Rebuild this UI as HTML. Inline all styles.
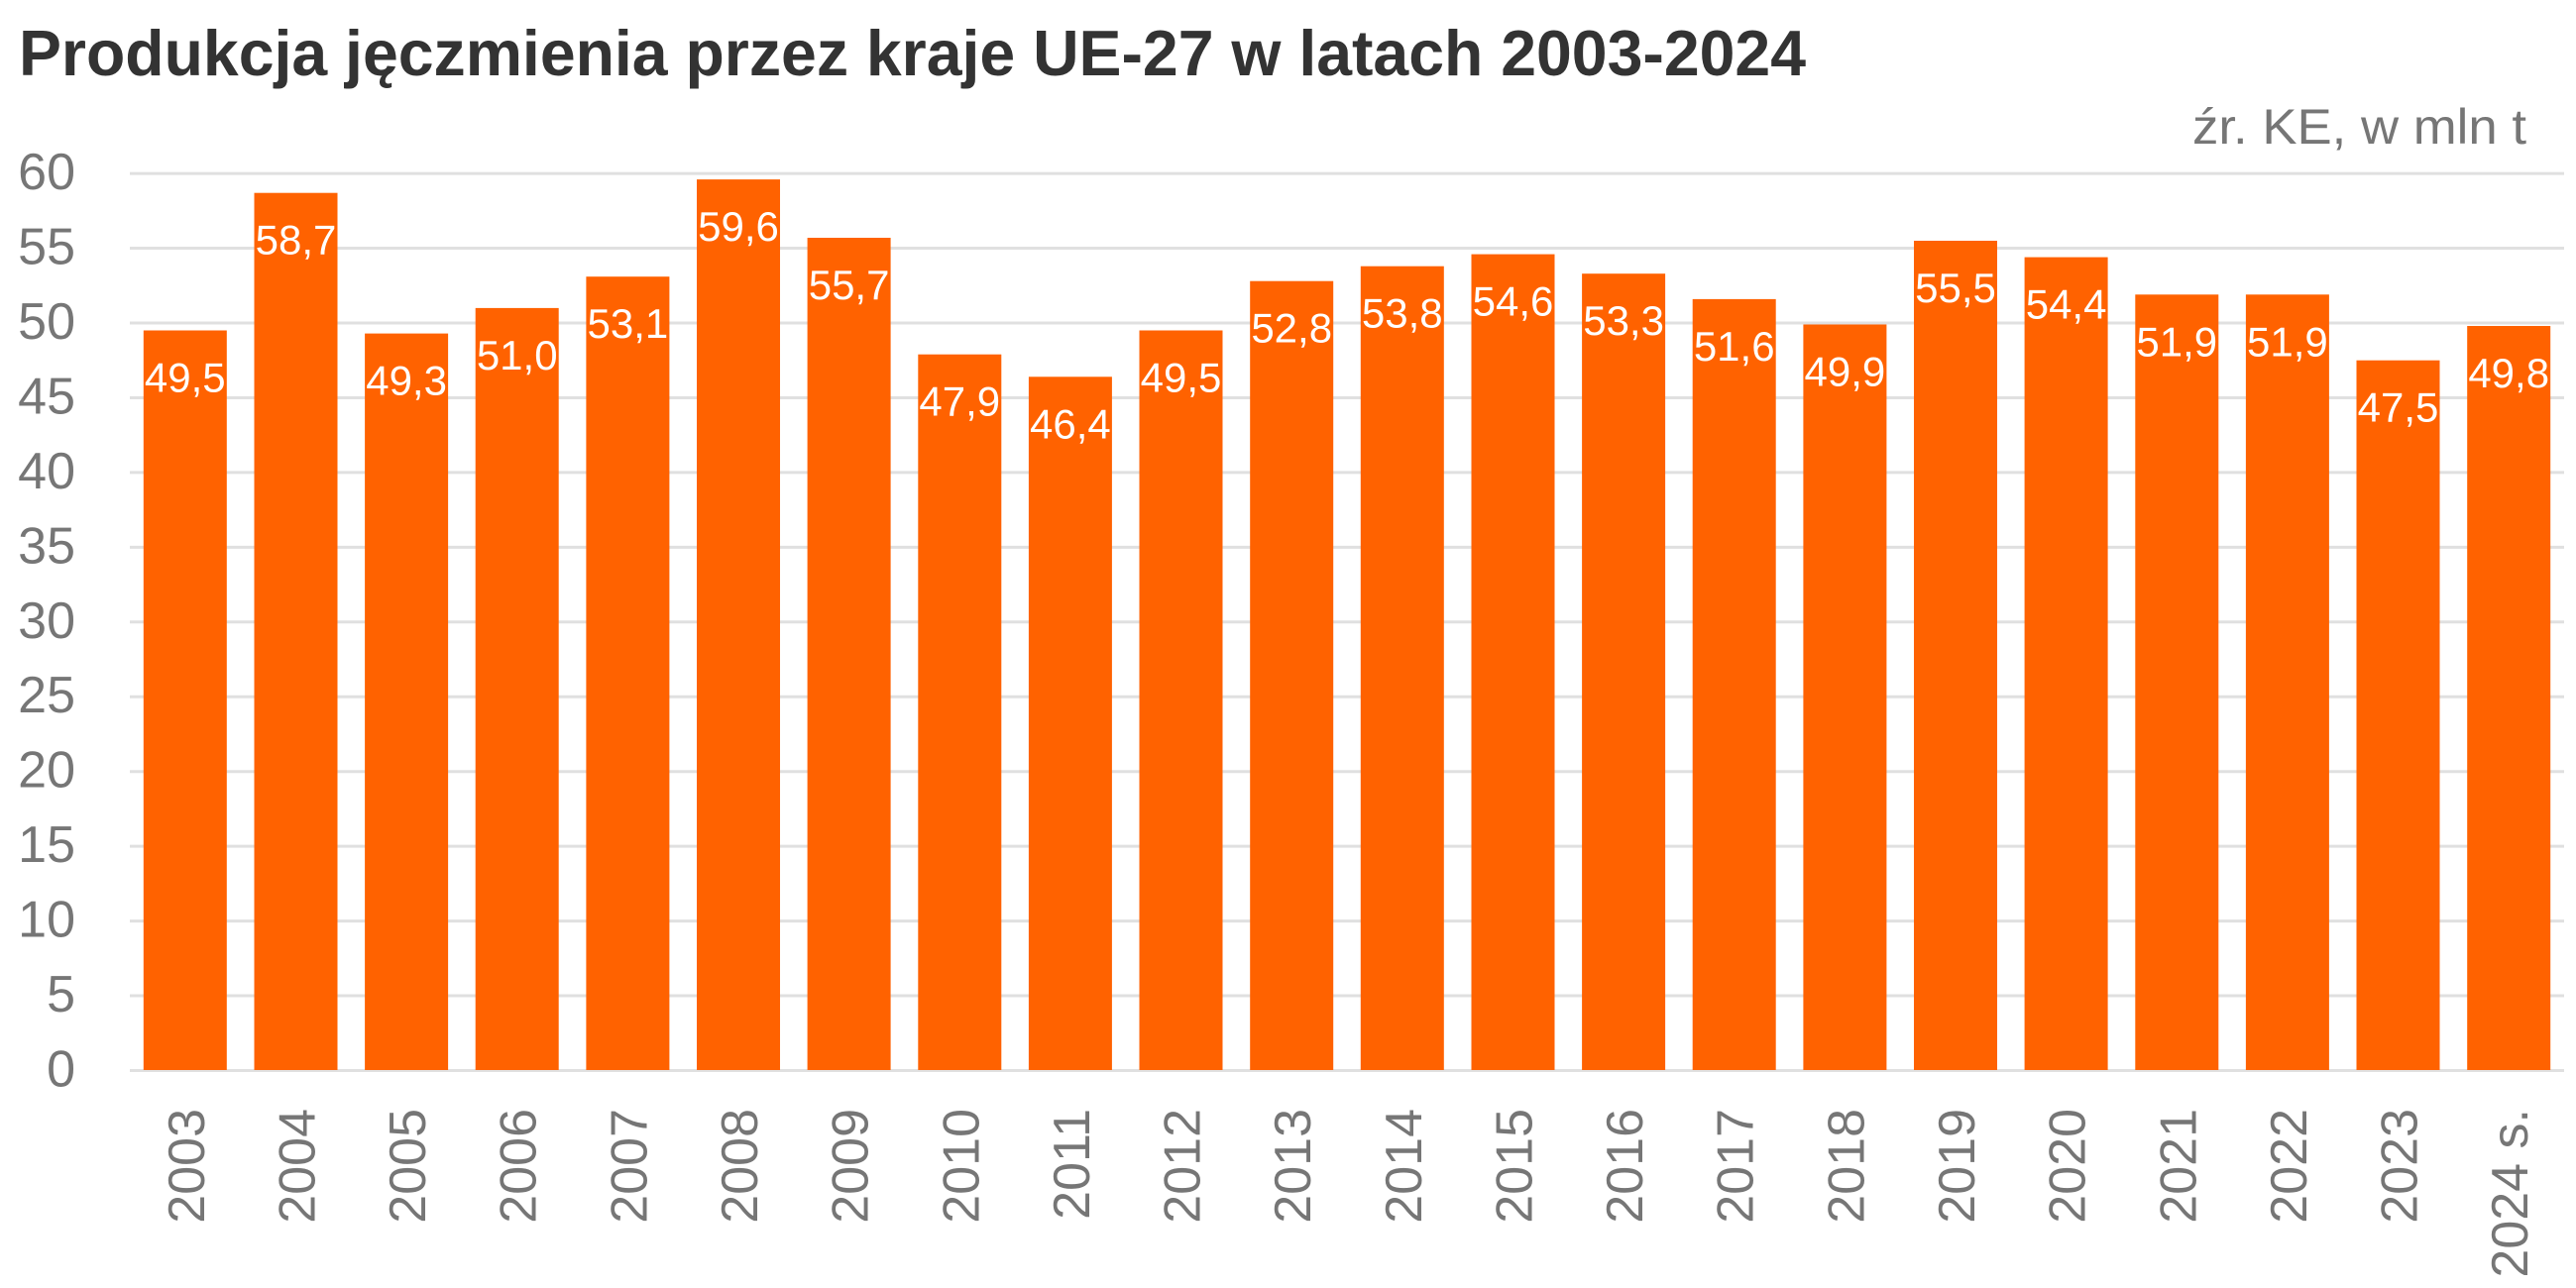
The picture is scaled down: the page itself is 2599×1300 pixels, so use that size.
<!DOCTYPE html>
<html>
<head>
<meta charset="utf-8">
<style>
html,body{margin:0;padding:0;background:#fff;}
svg{display:block;}
</style>
</head>
<body>
<svg width="2599" height="1300" viewBox="0 0 2599 1300" xmlns="http://www.w3.org/2000/svg">
<rect width="2599" height="1300" fill="#fff"/>
<text x="19" y="76" font-family="Liberation Sans, sans-serif" font-weight="bold" font-size="65" fill="#333333" textLength="1803" lengthAdjust="spacingAndGlyphs">Produkcja jęczmienia przez kraje UE-27 w latach 2003-2024</text>
<text x="2212" y="145" font-family="Liberation Sans, sans-serif" font-size="50" fill="#767676" textLength="337" lengthAdjust="spacingAndGlyphs">źr. KE, w mln t</text>
<g stroke="#e0e0e0" stroke-width="3">
<line x1="131" x2="2587" y1="1080.5" y2="1080.5"/>
<line x1="131" x2="2587" y1="1005.05" y2="1005.05"/>
<line x1="131" x2="2587" y1="929.6" y2="929.6"/>
<line x1="131" x2="2587" y1="854.15" y2="854.15"/>
<line x1="131" x2="2587" y1="778.7" y2="778.7"/>
<line x1="131" x2="2587" y1="703.25" y2="703.25"/>
<line x1="131" x2="2587" y1="627.8" y2="627.8"/>
<line x1="131" x2="2587" y1="552.35" y2="552.35"/>
<line x1="131" x2="2587" y1="476.9" y2="476.9"/>
<line x1="131" x2="2587" y1="401.45" y2="401.45"/>
<line x1="131" x2="2587" y1="326" y2="326"/>
<line x1="131" x2="2587" y1="250.55" y2="250.55"/>
<line x1="131" x2="2587" y1="175.1" y2="175.1"/>
</g>
<g font-family="Liberation Sans, sans-serif" font-size="52" fill="#767676" text-anchor="end">
<text x="76" y="1096.5">0</text>
<text x="76" y="1021">5</text>
<text x="76" y="945.6">10</text>
<text x="76" y="870.1">15</text>
<text x="76" y="794.7">20</text>
<text x="76" y="719.2">25</text>
<text x="76" y="643.8">30</text>
<text x="76" y="568.3">35</text>
<text x="76" y="492.9">40</text>
<text x="76" y="417.4">45</text>
<text x="76" y="342">50</text>
<text x="76" y="266.5">55</text>
<text x="76" y="191">60</text>
</g>
<g fill="#ff6200">
<rect x="144.8" y="333.5" width="84" height="746.5"/>
<rect x="256.5" y="194.7" width="84" height="885.3"/>
<rect x="368.1" y="336.6" width="84" height="743.4"/>
<rect x="479.7" y="310.9" width="84" height="769.1"/>
<rect x="591.4" y="279.2" width="84" height="800.8"/>
<rect x="703.0" y="181.1" width="84" height="898.9"/>
<rect x="814.6" y="240.0" width="84" height="840.0"/>
<rect x="926.3" y="357.7" width="84" height="722.3"/>
<rect x="1037.9" y="380.3" width="84" height="699.7"/>
<rect x="1149.5" y="333.5" width="84" height="746.5"/>
<rect x="1261.2" y="283.7" width="84" height="796.3"/>
<rect x="1372.8" y="268.7" width="84" height="811.3"/>
<rect x="1484.5" y="256.6" width="84" height="823.4"/>
<rect x="1596.1" y="276.2" width="84" height="803.8"/>
<rect x="1707.7" y="301.9" width="84" height="778.1"/>
<rect x="1819.4" y="327.5" width="84" height="752.5"/>
<rect x="1931.0" y="243.0" width="84" height="837.0"/>
<rect x="2042.6" y="259.6" width="84" height="820.4"/>
<rect x="2154.3" y="297.3" width="84" height="782.7"/>
<rect x="2265.9" y="297.3" width="84" height="782.7"/>
<rect x="2377.5" y="363.7" width="84" height="716.3"/>
<rect x="2489.2" y="329.0" width="84" height="751.0"/>
</g>
<g font-family="Liberation Sans, sans-serif" font-size="42" fill="#ffffff" text-anchor="middle">
<text x="186.8" y="395.5">49,5</text>
<text x="298.5" y="256.7">58,7</text>
<text x="410.1" y="398.6">49,3</text>
<text x="521.7" y="372.9">51,0</text>
<text x="633.4" y="341.2">53,1</text>
<text x="745.0" y="243.1">59,6</text>
<text x="856.6" y="302.0">55,7</text>
<text x="968.3" y="419.7">47,9</text>
<text x="1079.9" y="442.3">46,4</text>
<text x="1191.5" y="395.5">49,5</text>
<text x="1303.2" y="345.7">52,8</text>
<text x="1414.8" y="330.7">53,8</text>
<text x="1526.5" y="318.6">54,6</text>
<text x="1638.1" y="338.2">53,3</text>
<text x="1749.7" y="363.9">51,6</text>
<text x="1861.4" y="389.5">49,9</text>
<text x="1973.0" y="305.0">55,5</text>
<text x="2084.6" y="321.6">54,4</text>
<text x="2196.3" y="359.3">51,9</text>
<text x="2307.9" y="359.3">51,9</text>
<text x="2419.5" y="425.7">47,5</text>
<text x="2531.2" y="391.0">49,8</text>
</g>
<g font-family="Liberation Sans, sans-serif" font-size="52" fill="#767676" text-anchor="end">
<text transform="translate(205.8,1119) rotate(-90)">2003</text>
<text transform="translate(317.5,1119) rotate(-90)">2004</text>
<text transform="translate(429.1,1119) rotate(-90)">2005</text>
<text transform="translate(540.7,1119) rotate(-90)">2006</text>
<text transform="translate(652.4,1119) rotate(-90)">2007</text>
<text transform="translate(764.0,1119) rotate(-90)">2008</text>
<text transform="translate(875.6,1119) rotate(-90)">2009</text>
<text transform="translate(987.3,1119) rotate(-90)">2010</text>
<text transform="translate(1098.9,1119) rotate(-90)">2011</text>
<text transform="translate(1210.5,1119) rotate(-90)">2012</text>
<text transform="translate(1322.2,1119) rotate(-90)">2013</text>
<text transform="translate(1433.8,1119) rotate(-90)">2014</text>
<text transform="translate(1545.5,1119) rotate(-90)">2015</text>
<text transform="translate(1657.1,1119) rotate(-90)">2016</text>
<text transform="translate(1768.7,1119) rotate(-90)">2017</text>
<text transform="translate(1880.4,1119) rotate(-90)">2018</text>
<text transform="translate(1992.0,1119) rotate(-90)">2019</text>
<text transform="translate(2103.6,1119) rotate(-90)">2020</text>
<text transform="translate(2215.3,1119) rotate(-90)">2021</text>
<text transform="translate(2326.9,1119) rotate(-90)">2022</text>
<text transform="translate(2438.5,1119) rotate(-90)">2023</text>
<text transform="translate(2550.2,1119) rotate(-90)">2024 s.</text>
</g>
</svg>
</body>
</html>
